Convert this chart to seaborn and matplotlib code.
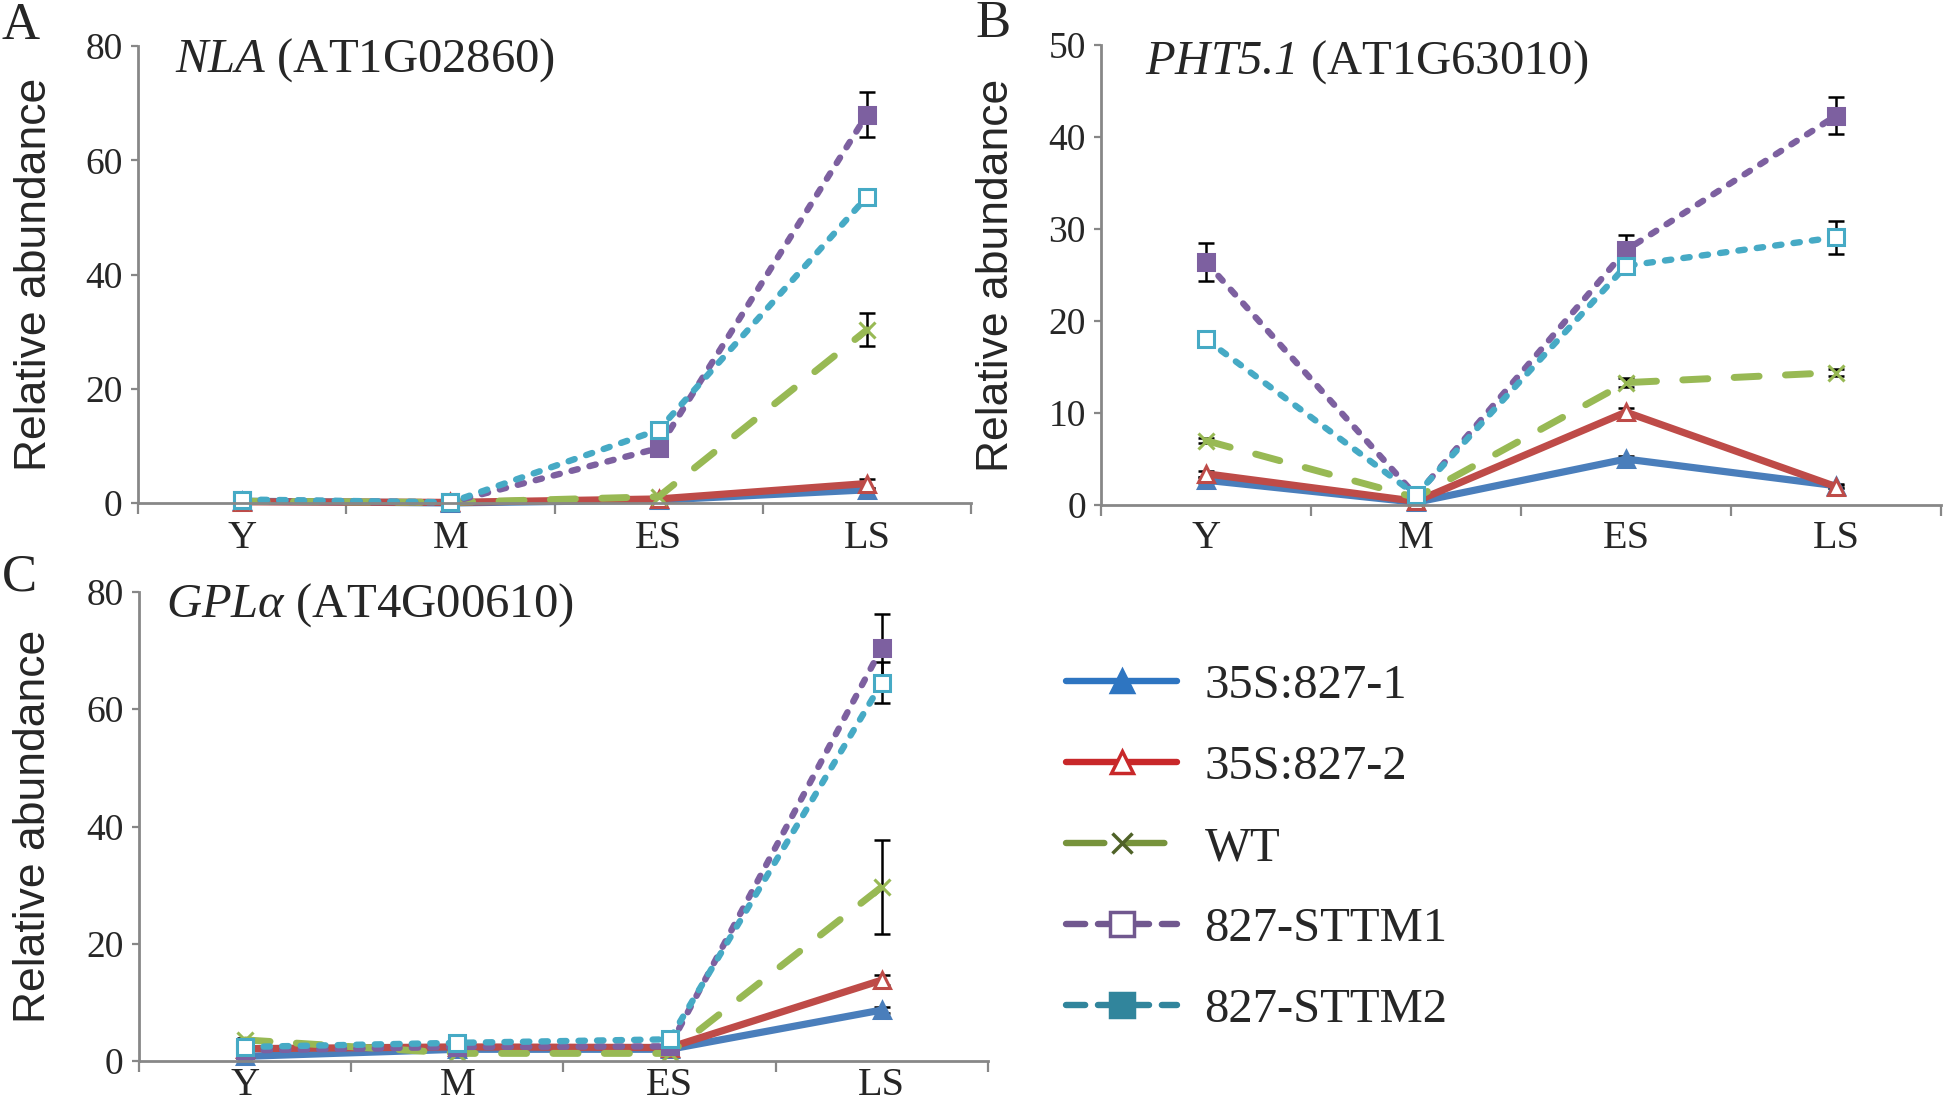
import numpy as np
import matplotlib
matplotlib.use("Agg")
import matplotlib.pyplot as plt
import seaborn as sns
from matplotlib.lines import Line2D

# stages and genotypes
stages = ["Y", "M", "ES", "LS"]
genotypes = ["35S:827-1", "35S:827-2", "WT", "827-STTM1", "827-STTM2"]

# A: NLA (AT1G02860)
nla_827_1 = [0.3, 0.0, 0.5, 2.3]
nla_827_2 = [0.2, 0.1, 0.7, 3.4]
nla_wt = [0.3, 0.1, 1.1, 30.3]
nla_sttm1 = [0.5, 0.1, 9.6, 68.0]
nla_sttm2 = [0.6, 0.1, 12.8, 53.6]
nla_err_827_1 = [0.1, 0.0, 0.1, 0.4]
nla_err_827_2 = [0.1, 0.0, 0.1, 0.8]
nla_err_wt = [0.1, 0.0, 0.2, 2.9]
nla_err_sttm1 = [0.1, 0.0, 0.8, 4.0]
nla_err_sttm2 = [0.1, 0.0, 0.6, 0.5]

# B: PHT5.1 (AT1G63010)
pht_827_1 = [2.7, 0.3, 5.0, 2.1]
pht_827_2 = [3.4, 0.4, 10.1, 2.0]
pht_wt = [7.0, 0.8, 13.3, 14.4]
pht_sttm1 = [26.4, 1.0, 27.7, 42.3]
pht_sttm2 = [18.0, 1.1, 26.0, 29.1]
pht_err_827_1 = [0.3, 0.1, 0.3, 0.2]
pht_err_827_2 = [0.3, 0.1, 0.5, 0.2]
pht_err_wt = [0.3, 0.1, 0.5, 0.4]
pht_err_sttm1 = [2.1, 0.2, 1.7, 2.0]
pht_err_sttm2 = [0.5, 0.2, 0.5, 1.8]

# C: GPLalpha (AT4G00610)
gpl_827_1 = [0.8, 2.0, 2.0, 8.7]
gpl_827_2 = [2.1, 2.4, 2.3, 13.8]
gpl_wt = [3.6, 1.3, 1.3, 29.7]
gpl_sttm1 = [1.8, 2.4, 2.5, 70.5]
gpl_sttm2 = [2.4, 3.1, 3.7, 64.5]
gpl_err_827_1 = [0.2, 0.2, 0.2, 0.5]
gpl_err_827_2 = [0.3, 0.2, 0.2, 0.8]
gpl_err_wt = [0.4, 0.2, 0.2, 8.0]
gpl_err_sttm1 = [0.3, 0.2, 0.3, 5.8]
gpl_err_sttm2 = [0.3, 0.3, 0.4, 3.5]

sns.set_theme(style="ticks")
plt.rcParams["font.family"] = ["Liberation Serif", "DejaVu Serif"]
plt.rcParams["mathtext.fontset"] = "custom"
# gene names are the only math text, all of it italic (digits too)
plt.rcParams["mathtext.rm"] = "Liberation Serif:italic"
plt.rcParams["mathtext.it"] = "Liberation Serif:italic"

axis_grey = "#878787"
short_dash = (0, (1.0, 1.9))
long_dash = (0, (3.6, 3.8))

# plot styles
styles = {
    "35S:827-1": dict(color="#4A7EBB", linestyle="-", marker="^", face="#4A7EBB", lw=5.2, ms=11),
    "35S:827-2": dict(color="#BE4B48", linestyle="-", marker="^", face="white", lw=5.2, ms=11),
    "WT": dict(color="#98B954", linestyle=long_dash, marker="x", face="#98B954", lw=5.0, ms=11),
    "827-STTM1": dict(color="#7D60A0", linestyle=short_dash, marker="s", face="#7D60A0", lw=4.6, ms=11),
    "827-STTM2": dict(color="#46AAC5", linestyle=short_dash, marker="s", face="white", lw=4.6, ms=11),
}


def draw_panel(ax, means, errs, ymax, ystep, title, tx, ty, xpad):
    for g, m, e in zip(genotypes, means, errs):
        st = styles[g]
        ax.errorbar(stages, m, yerr=e, fmt="none", ecolor="black",
                    elinewidth=1.8, capsize=5.5, capthick=1.8, zorder=1.5)
        sns.lineplot(x=stages, y=m, ax=ax, sort=False, color=st["color"],
                     linestyle=st["linestyle"], linewidth=st["lw"],
                     dash_capstyle="round", marker=st["marker"], markersize=st["ms"],
                     markerfacecolor=st["face"], markeredgecolor=st["color"],
                     markeredgewidth=2.2, clip_on=False)
    ax.set_xlim(-0.5, 3.5)
    ax.set_ylim(0, ymax)
    ax.set_yticks(np.arange(0, ymax + 1, ystep))
    ax.set_xticks(range(len(stages)))
    ax.set_xticklabels(stages)
    ax.set_xticks(np.arange(-0.5, len(stages), 1), minor=True)
    ax.tick_params(axis="x", which="major", length=0, pad=xpad, labelsize=29)
    ax.tick_params(axis="x", which="minor", length=8, width=1.6,
                   color=axis_grey, direction="out")
    ax.tick_params(axis="y", length=5, width=1.6, color=axis_grey,
                   labelsize=27, pad=6)
    sns.despine(ax=ax)
    for s in ["left", "bottom"]:
        ax.spines[s].set_color(axis_grey)
        ax.spines[s].set_linewidth(2)
    ax.set_xlabel("")
    ax.set_ylabel("Relative abundance", fontfamily="Liberation Sans",
                  fontsize=32)
    ax.yaxis.set_label_coords(-0.10, 0.5)
    ax.text(tx, ty, title, transform=ax.transAxes, fontsize=35,
            ha="left", va="center")


fig = plt.figure(figsize=(19.46, 11.02), dpi=100)
ax_a = fig.add_axes([0.0709, 0.5436, 0.4281, 0.4146])
ax_b = fig.add_axes([0.5658, 0.5417, 0.4316, 0.4175])
ax_c = fig.add_axes([0.0714, 0.0372, 0.4363, 0.4256])

draw_panel(ax_a,
           [nla_827_1, nla_827_2, nla_wt, nla_sttm1, nla_sttm2],
           [nla_err_827_1, nla_err_827_2, nla_err_wt, nla_err_sttm1, nla_err_sttm2],
           80, 20, r"$NLA$ (AT1G02860)", 0.044, 0.97, 12)
draw_panel(ax_b,
           [pht_827_1, pht_827_2, pht_wt, pht_sttm1, pht_sttm2],
           [pht_err_827_1, pht_err_827_2, pht_err_wt, pht_err_sttm1, pht_err_sttm2],
           50, 10, r"$PHT5.1$ (AT1G63010)", 0.052, 0.962, 11)
draw_panel(ax_c,
           [gpl_827_1, gpl_827_2, gpl_wt, gpl_sttm1, gpl_sttm2],
           [gpl_err_827_1, gpl_err_827_2, gpl_err_wt, gpl_err_sttm1, gpl_err_sttm2],
           80, 20, r"$GPL\alpha$ (AT4G00610)", 0.032, 0.972, 4)

# panel letters
fig.text(0.001, 0.976, "A", fontsize=38, va="center", ha="left")
fig.text(0.501, 0.978, "B", fontsize=38, va="center", ha="left")
fig.text(0.001, 0.476, "C", fontsize=38, va="center", ha="left")

# legend drawn as its own box, colours as in the original key
legend_styles = [
    ("#2E75C1", "-", "^", "#2E75C1", "#2E75C1", 16),
    ("#C8282A", "-", "^", "white", "#C8282A", 16),
    ("#77933C", (0, (6.0, 3.4)), "x", "#4F6228", "#4F6228", 15),
    ("#71588F", (0, (3.0, 2.0)), "s", "white", "#71588F", 17),
    ("#31859C", (0, (3.0, 2.0)), "s", "#31859C", "#31859C", 17),
]
handles = [Line2D([0], [0], color=c, linestyle=ls, linewidth=4.6,
                  solid_capstyle="round", dash_capstyle="round",
                  marker=mk, markersize=ms, markerfacecolor=fc,
                  markeredgecolor=ec, markeredgewidth=2.5)
           for c, ls, mk, fc, ec, ms in legend_styles]
fig.legend(handles, genotypes, loc="center left", bbox_to_anchor=(0.548, 0.2305),
           frameon=False, fontsize=35, handlelength=2.28, handletextpad=0.56,
           labelspacing=0.76, borderpad=0, borderaxespad=0)

fig.savefig("out.png", dpi=100)
